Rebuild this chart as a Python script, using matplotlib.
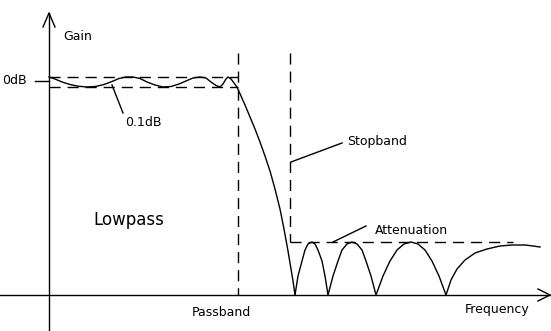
import matplotlib
matplotlib.use("Agg")
import matplotlib.pyplot as plt

# schematic lowpass response
# frequency in px from the left edge, gain in px above the frequency axis
freq_pass = [49, 55, 62, 70, 78, 87, 96, 104, 112, 119, 126, 133, 140,
             147, 155, 163, 171, 179, 186, 193, 200, 206, 211, 216, 220,
             223, 226, 228, 231, 234, 237, 241, 245, 250, 255, 260, 265,
             270, 275, 280, 284, 288, 291, 293, 295]
gain_pass = [218, 216, 213, 210.5, 208.8, 208, 208.6, 210.5, 213.5, 216.5, 218, 218, 216.5,
             213, 210, 208, 208.5, 211, 214, 217, 218, 217, 213, 209.5, 208,
             211, 216, 218, 216, 212, 208, 199, 190, 178, 166, 153, 139,
             124, 106, 86, 66, 44, 26, 14, 0]

freq_stop = [295, 298, 302, 305, 308, 312, 315, 318, 322, 325, 328,
             333, 338, 342, 347, 352, 357, 362, 366, 371, 376,
             383, 390, 397, 404, 411, 418, 425, 432, 439, 446,
             451, 457, 465, 475, 487, 500, 512, 525, 533, 540]
gain_stop = [0, 19, 34, 45, 51, 53, 51, 45, 34, 19, 0,
             19, 34, 45, 51, 53, 51, 45, 34, 19, 0,
             19, 34, 45, 51, 53, 51, 45, 34, 19, 0,
             15, 26, 35, 42, 46, 49, 50, 50, 49, 48]

ripple_top = 218
ripple_bottom = 208
passband_edge = 238
stopband_edge = 290
attenuation = 53
attenuation_end = 513

W, H = 551, 331
fig = plt.figure(figsize=(W / 100, H / 100), dpi=100)
ax = fig.add_axes([0, 0, 1, 1])
ax.set_xlim(0, W)
ax.set_ylim(-36, 295)
ax.axis("off")

k = dict(color="black", lw=1.0)
dash = dict(color="black", lw=1.0, ls=(0, (8, 5)))

# axes with arrows
ax.plot([0, 550], [0, 0], **k)
ax.plot([538, 550, 538], [6, 0, -6], **k)
ax.plot([49, 49], [-36, 282], **k)
ax.plot([43, 49, 55], [268, 282, 268], **k)
ax.plot([35, 49], [214, 214], **k)

# curve
ax.plot(freq_pass, gain_pass, **k)
ax.plot(freq_stop, gain_stop, **k)

# dashed guides
ax.plot([49, passband_edge], [ripple_top, ripple_top], **dash)
ax.plot([49, passband_edge], [ripple_bottom, ripple_bottom], **dash)
ax.plot([passband_edge, passband_edge], [242, 0], **dash)
ax.plot([stopband_edge, stopband_edge], [242, attenuation], **dash)
ax.plot([stopband_edge, attenuation_end], [attenuation, attenuation], **dash)

# leaders
ax.plot([112, 123], [210, 182], **k)
ax.plot([291, 342], [133, 152], **k)
ax.plot([333, 366], [53, 69], **k)

fs = 9
ax.text(63, 258, "Gain", fontsize=fs, va="center")
ax.text(2, 214, "0dB", fontsize=fs, va="center")
ax.text(125, 172, "0.1dB", fontsize=fs, va="center")
ax.text(347, 153, "Stopband", fontsize=fs, va="center")
ax.text(375, 64, "Attenuation", fontsize=fs, va="center")
ax.text(192, -17, "Passband", fontsize=fs, va="center")
ax.text(465, -15, "Frequency", fontsize=fs, va="center")
ax.text(93, 75, "Lowpass", fontsize=12, va="center")

fig.savefig("out.png", dpi=100)
